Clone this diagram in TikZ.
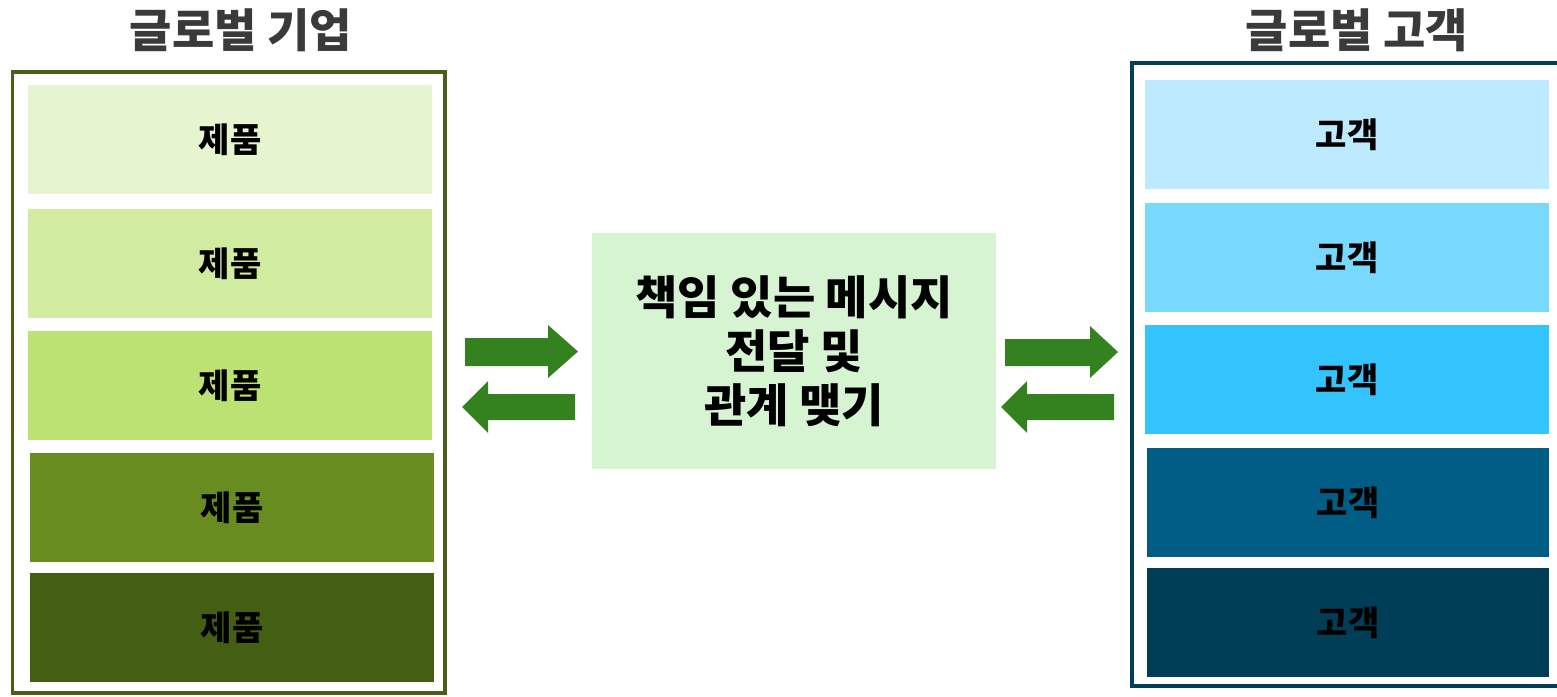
\documentclass[tikz,border=0pt]{standalone}
\usepackage{fontspec}
\newfontfamily\kr{Noto Sans CJK KR}
\definecolor{gA}{HTML}{E6F5D0}
\definecolor{gB}{HTML}{D1EBA1}
\definecolor{gC}{HTML}{BCE274}
\definecolor{gD}{HTML}{688C1F}
\definecolor{gE}{HTML}{445E13}
\definecolor{bA}{HTML}{BDEAFE}
\definecolor{bB}{HTML}{79D8FE}
\definecolor{bC}{HTML}{33C4FE}
\definecolor{bD}{HTML}{005E86}
\definecolor{bE}{HTML}{003D57}
\definecolor{gline}{HTML}{4A5E1A}
\definecolor{bline}{HTML}{003F57}
\definecolor{mid}{HTML}{D6F4D2}
\definecolor{arr}{HTML}{33821F}
\definecolor{ttl}{HTML}{3A3A3A}
\tikzset{
  cell/.style={anchor=north west, inner sep=0pt, minimum width=404pt, minimum height=109pt, font=\kr\bfseries\fontsize{34}{38}\selectfont, text=black},
  title/.style={font=\kr\bfseries\fontsize{46}{52}\selectfont, text=ttl, inner sep=0pt},
  blockarrow/.style={fill=arr, draw=none}
}
\begin{document}
\begin{tikzpicture}[x=1pt,y=-1pt]
\useasboundingbox (0,0) rectangle (1557,696);
% titles
\node[title] (t1) at (241,30) {글로벌 기업};
\node[title] (t2) at (1357,30) {글로벌 고객};
% outer frames
\draw[gline, line width=3.5pt] (12.5,72) rectangle (445,693) coordinate (lf);
\draw[bline, line width=3.5pt] (1132,63) rectangle (1562,686) coordinate (rf);
% left cells
\node[cell, fill=gA] (p1) at (28,85) {제품};
\node[cell, fill=gB] (p2) at (28,209) {제품};
\node[cell, fill=gC] (p3) at (28,331) {제품};
\node[cell, fill=gD] (p4) at (30,453) {제품};
\node[cell, fill=gE] (p5) at (30,573) {제품};
% right cells
\node[cell, fill=bA] (c1) at (1145,80) {고객};
\node[cell, fill=bB] (c2) at (1145,203) {고객};
\node[cell, fill=bC] (c3) at (1145,325) {고객};
\node[cell, fill=bD, minimum width=402pt] (c4) at (1147,448) {고객};
\node[cell, fill=bE, minimum width=402pt] (c5) at (1147,568) {고객};
% middle
\node[anchor=north west, fill=mid, minimum width=404pt, minimum height=236pt, inner sep=0pt,
  align=center, font=\kr\bfseries\fontsize{46}{54}\selectfont] (m) at (592,233)
  {책임 있는 메시지\\전달 및\\관계 맺기};
% arrows left
\fill[blockarrow] (465,338) -- (548,338) -- (548,325) -- (578,351.5) -- (548,378) -- (548,366) -- (465,366) -- cycle;
\fill[blockarrow] (575,394) -- (488,394) -- (488,381) -- (462,407) -- (488,433) -- (488,420) -- (575,420) -- cycle;
% arrows right
\fill[blockarrow] (1005,339) -- (1090,339) -- (1090,326) -- (1118,352) -- (1090,378) -- (1090,366) -- (1005,366) -- cycle;
\fill[blockarrow] (1114,394) -- (1027,394) -- (1027,381) -- (1001,407) -- (1027,433) -- (1027,420) -- (1114,420) -- cycle;
\end{tikzpicture}
\end{document}
